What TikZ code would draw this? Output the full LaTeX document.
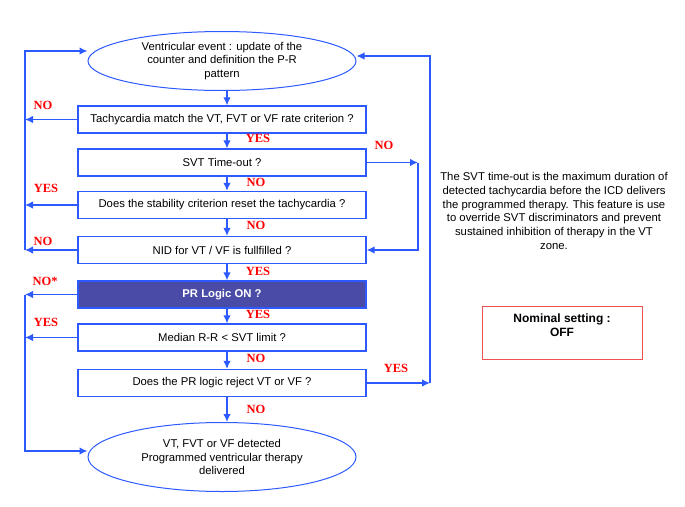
\documentclass[tikz,border=0pt]{standalone}
\usepackage{fontspec}
\setmainfont{Liberation Sans}
\newfontfamily\lblfont{Liberation Serif}
\usetikzlibrary{arrows.meta,shapes.geometric}
\definecolor{lineblue}{RGB}{45,90,255}
\definecolor{prblue}{RGB}{74,75,166}
\definecolor{lblred}{RGB}{255,0,0}
\definecolor{nomred}{RGB}{240,80,80}
\newcommand{\arw}{-{Latex[length=8pt,width=7.5pt]}}

\begin{document}
\begin{tikzpicture}[x=1pt,y=-1pt,line width=1.3pt,
  txt/.style={font=\fontsize{11.3}{13.7}\selectfont},
  stepbox/.style={txt,draw=lineblue,minimum width=288pt,minimum height=27pt,inner sep=0pt},
  evshape/.style={txt,draw=lineblue,line width=1pt,ellipse,minimum width=268pt,minimum height=59pt,inner sep=0pt,align=center},
  lbl/.style={font=\lblfont\bfseries\fontsize{12.5}{12.5}\selectfont,text=lblred,inner sep=0pt}]
\useasboundingbox (0,0) rectangle (685,506);
% flow chart
\node[evshape] (ev) at (222,61) {Ventricular event : update of the\\counter and definition the P-R\\pattern};
\node[stepbox] (rate) at (222,119.5) {Tachycardia match the VT, FVT or VF rate criterion ?};
\node[stepbox] (tout) at (222,162.5) {SVT Time-out ?};
\node[stepbox] (stab) at (222,205) {Does the stability criterion reset the tachycardia ?};
\node[stepbox] (nid) at (222,250) {NID for VT / VF is fullfilled ?};
\node[stepbox,fill=prblue,text=white,font=\bfseries\fontsize{11.3}{13.7}\selectfont] (prl) at (222,294.5) {PR Logic ON ?};
\node[stepbox] (med) at (222,337.5) {Median R-R < SVT limit ?};
\node[stepbox] (rej) at (222,383) {Does the PR logic reject VT or VF ?};
\node[evshape,minimum height=69pt] (det) at (222,457) {VT, FVT or VF detected\\Programmed ventricular therapy\\delivered};
\foreach \a/\b in {ev/rate,rate/tout,tout/stab,stab/nid,nid/prl,prl/med,med/rej,rej/det}
  \draw[lineblue,\arw] ([xshift=5pt]\a.south) -- ([xshift=5pt]\b.north);
% loops
\coordinate (lt) at (25,51);
\coordinate (lb) at (25,451);
\coordinate (ri) at (418,166);
\coordinate (ro) at (430,56);
\foreach \n in {rate,stab,nid}
  \draw[lineblue,\arw] (\n.west) -- (\n.west -| lt);
\draw[lineblue,\arw] (nid.west -| lt) -- (lt) -- ([yshift=10pt]ev.west);
\foreach \n in {prl,med}
  \draw[lineblue,\arw] (\n.west) -- (\n.west -| lb);
\draw[lineblue,\arw] (prl.west -| lb) -- (lb) -- ([yshift=6pt]det.west);
\draw[lineblue,\arw] (tout.east) -- (tout.east -| ri);
\draw[lineblue,\arw] (tout.east -| ri) -- (nid.east -| ri) -- (nid.east);
\draw[lineblue,\arw] (rej.east) -- (rej.east -| ro);
\draw[lineblue,\arw] (rej.east -| ro) -- (ro) -- ([yshift=5pt]ev.east);
% answers
\node[lbl] (n1) at (43,105) {NO};
\node[lbl] (y1) at (258,138) {YES};
\node[lbl] (n2) at (384,145) {NO};
\node[lbl] (n3) at (256,182) {NO};
\node[lbl] (y2) at (46,188) {YES};
\node[lbl] (n4) at (256,225) {NO};
\node[lbl] (n5) at (43,241) {NO};
\node[lbl] (y3) at (258,271) {YES};
\node[lbl] (n6) at (45,281) {NO*};
\node[lbl] (y4) at (258,314) {YES};
\node[lbl] (y5) at (46,322) {YES};
\node[lbl] (n7) at (256,358) {NO};
\node[lbl] (y6) at (396,368) {YES};
\node[lbl] (n8) at (256,409) {NO};
% notes
\node[txt,align=center] (note) at (554,211) {The SVT time-out is the maximum duration of\\detected tachycardia before the ICD delivers\\the programmed therapy. This feature is use\\to override SVT discriminators and prevent\\sustained inhibition of therapy in the VT\\zone.};
\node[draw=nomred,line width=1pt,minimum width=160pt,minimum height=53pt] (nom) at (562,332.5) {};
\node[font=\bfseries\fontsize{12}{14}\selectfont,align=center] (nomlbl) at (562,325) {Nominal setting :\\OFF};
\end{tikzpicture}
\end{document}
